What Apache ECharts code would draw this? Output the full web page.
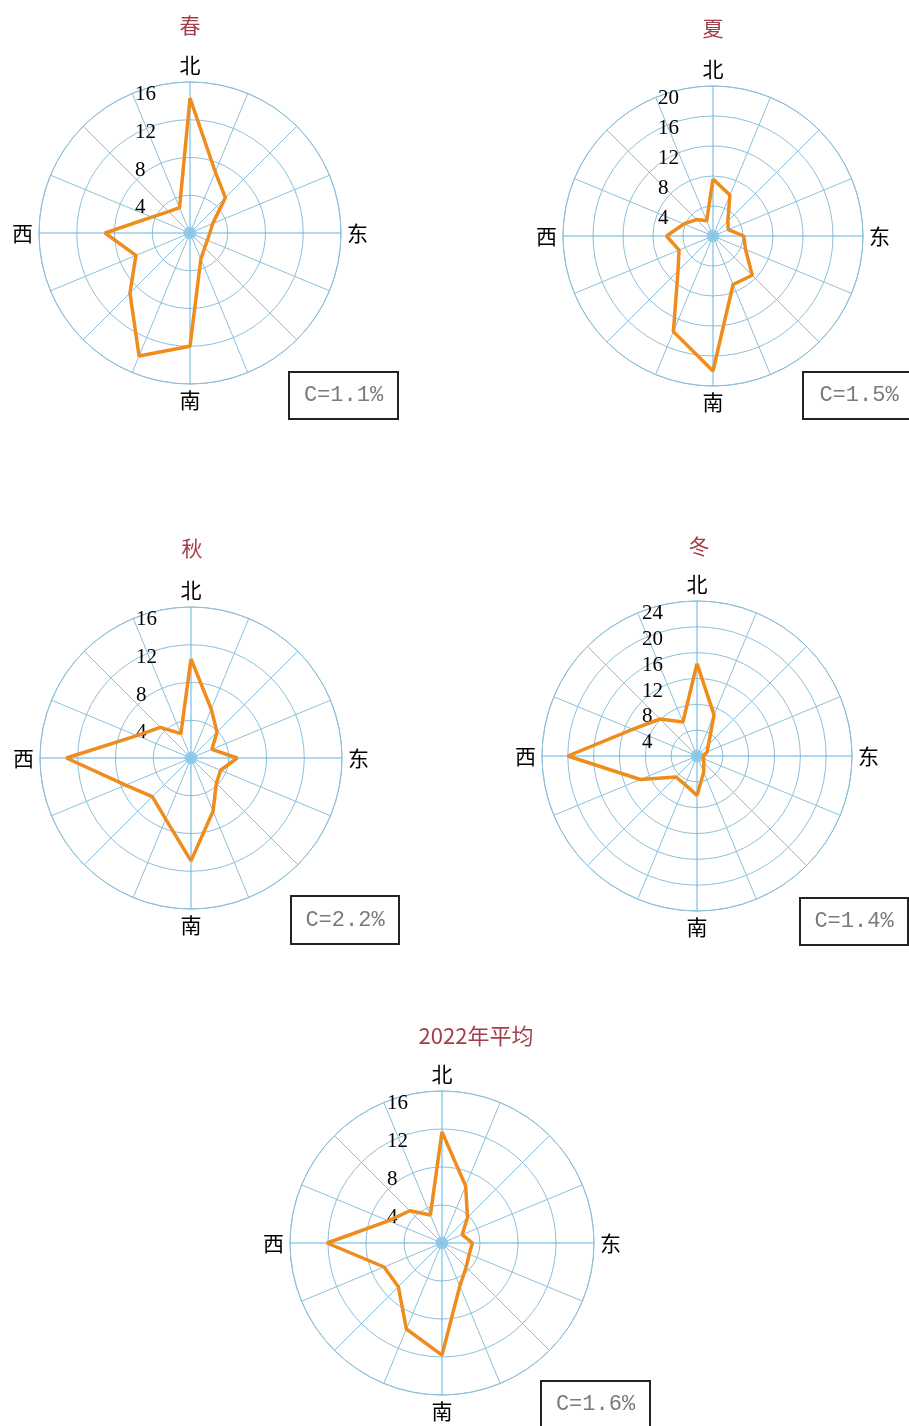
<!DOCTYPE html>
<html><head><meta charset="utf-8">
<script src="https://cdn.jsdelivr.net/npm/echarts@6/dist/echarts.min.js"></script>
<style>html,body{margin:0;padding:0;background:#fff}#c{width:909px;height:1426px}</style>
</head><body><div id="c"></div>
<script>
// ---- data ----
const titles = ['春', '夏', '秋', '冬', '2022年平均'];
const directions = ['N','NNE','NE','ENE','E','ESE','SE','SSE','S','SSW','SW','WSW','W','WNW','NW','NNW'];
const compassLabels = ['北', '东', '南', '西'];
const springFreq = [14.3, 7.0, 5.3, 2.6, 2.1, 2.0, 2.2, 3.0, 12.0, 14.1, 9.0, 6.2, 9.0, 4.4, 3.2, 2.9];
const summerFreq = [7.6, 5.9, 2.8, 2.2, 4.1, 4.7, 7.4, 7.0, 18.0, 13.8, 6.6, 4.9, 6.2, 4.2, 3.1, 2.2];
const autumnFreq = [10.5, 5.6, 3.9, 2.4, 4.9, 3.4, 3.8, 6.1, 10.9, 7.0, 5.8, 7.5, 13.2, 6.2, 4.6, 2.8];
const winterFreq = [14.3, 6.9, 2.5, 1.7, 1.0, 1.1, 1.5, 2.7, 6.1, 4.8, 4.6, 9.5, 20.0, 10.8, 8.1, 5.7];
const annualFreq = [11.7, 6.5, 3.8, 2.3, 3.2, 3.1, 3.6, 4.9, 11.8, 9.8, 6.5, 6.6, 12.1, 6.1, 4.8, 3.2];
const radiusMax = [16, 20, 16, 24, 16];
const radiusStep = 4;
const calmPct = [1.1, 1.5, 2.2, 1.4, 1.6];

// ---- layout / style ----
const layout = [
  { c: [190, 233], r: 151, tx: 190, ty: 27, box: [289, 372, 109, 47] },
  { c: [713, 236], r: 150, tx: 713, ty: 30, box: [803, 372, 112, 47] },
  { c: [191, 758], r: 151, tx: 192, ty: 550, box: [291, 896, 108, 48] },
  { c: [697, 756], r: 155, tx: 699, ty: 548, box: [800, 898, 108, 47] },
  { c: [442, 1243], r: 152, tx: 476, ty: 1037, box: [541, 1381, 109, 47] }
];
const freqs = [springFreq, summerFreq, autumnFreq, winterFreq, annualFreq];
const gridColor = '#8ebfdb';
const axisColor = '#5cb5e3';
const lineColor = '#ef8c1e';
const step = 360 / directions.length;

const polar = [], angleAxis = [], radiusAxis = [], series = [], title = [], graphic = [];
layout.forEach((L, i) => {
  polar.push({ center: L.c, radius: L.r });
  angleAxis.push({
    polarIndex: i, type: 'value', min: 0, max: 360, interval: step,
    startAngle: 90, clockwise: true,
    axisLine: { show: true, lineStyle: { color: gridColor, width: 1 } },
    axisTick: { show: false },
    splitLine: { show: true, lineStyle: { color: [axisColor, gridColor, gridColor, gridColor], width: 1 } },
    axisLabel: {
      margin: 6, color: '#000', fontSize: 21, fontFamily: 'Noto Sans CJK SC',
      formatter: v => {
        const k = Math.round(v / 90);
        return (Math.abs(v - k * 90) < 1e-6 && k < 4) ? compassLabels[k] : '';
      }
    }
  });
  radiusAxis.push({
    polarIndex: i, type: 'value', min: 0, max: radiusMax[i], interval: radiusStep,
    axisLine: { show: false }, axisTick: { show: false },
    splitLine: { show: true, lineStyle: { color: gridColor, width: 1 } },
    axisLabel: {
      margin: 55, align: 'left', verticalAlign: 'top', lineHeight: 25,
      showMaxLabel: true, hideOverlap: false,
      color: '#000', fontSize: 21, fontFamily: 'Liberation Serif',
      formatter: v => (v === 0 ? '' : String(v))
    }
  });
  const data = freqs[i].map((v, k) => [v, k * step]);
  data.push([freqs[i][0], 360]);
  series.push({
    type: 'scatter', coordinateSystem: 'polar', polarIndex: i,
    data: [[0, 0]], symbol: 'circle', symbolSize: 13,
    itemStyle: { color: '#86c5e8' }, silent: true, z: 1
  });
  series.push({
    type: 'line', coordinateSystem: 'polar', polarIndex: i,
    data: data, symbol: 'none', smooth: false,
    lineStyle: { color: lineColor, width: 3.5 }, z: 3
  });
  title.push({
    text: titles[i], left: L.tx, top: L.ty - 12, textAlign: 'center', padding: 0,
    textStyle: { color: '#a33f4a', fontSize: i === 4 ? 22 : 21, fontWeight: 'normal', fontFamily: 'Noto Sans CJK SC' }
  });
  const b = L.box;
  graphic.push({
    type: 'rect', shape: { x: b[0], y: b[1], width: b[2], height: b[3] },
    style: { fill: '#fff', stroke: '#222', lineWidth: 2 }
  });
  graphic.push({
    type: 'text', x: b[0] + b[2] / 2, y: b[1] + b[3] / 2,
    style: { text: 'C=' + calmPct[i] + '%', fill: '#7a7a7a', font: '22px "Liberation Mono"',
      align: 'center', verticalAlign: 'middle' }
  });
});

const chart = echarts.init(document.getElementById('c'), null, { renderer: 'canvas' });
chart.setOption({
  backgroundColor: '#fff', animation: false,
  title, polar, angleAxis, radiusAxis, series, graphic
});
</script>
</body></html>
